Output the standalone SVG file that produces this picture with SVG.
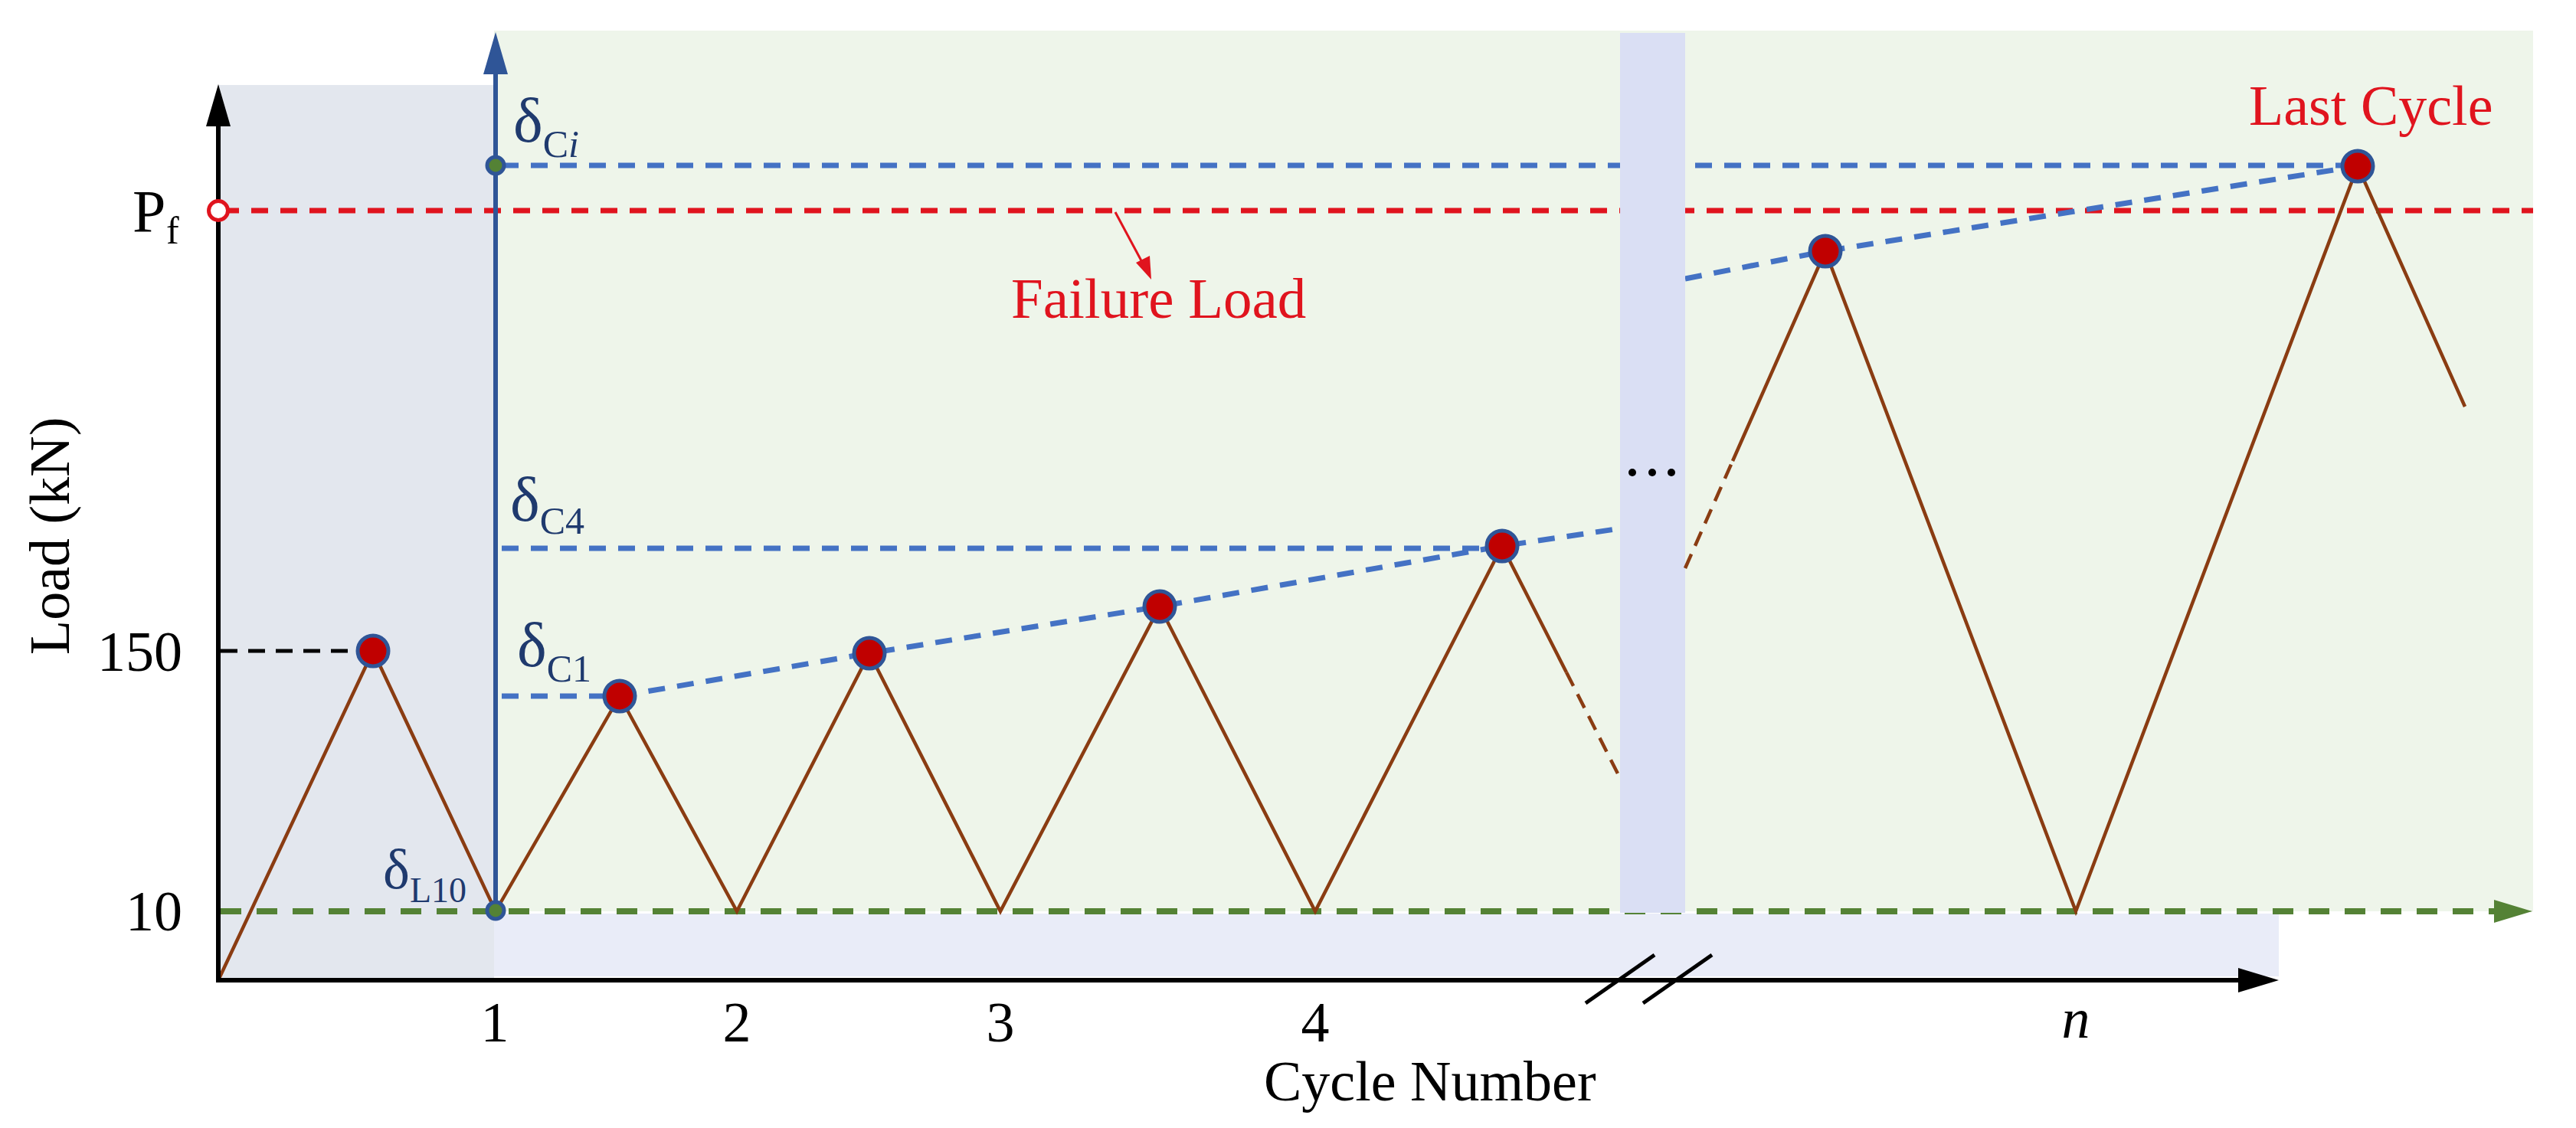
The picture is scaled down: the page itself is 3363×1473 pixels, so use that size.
<svg xmlns="http://www.w3.org/2000/svg" width="3363" height="1473" viewBox="0 0 3363 1473">
<style>
.serif{font-family:"Liberation Serif","Times New Roman",serif;}
.lbl{font-family:"Liberation Serif","Times New Roman",serif;font-size:74px;fill:#000;}
.red{fill:#e0141e;}
.delta{fill:#1f3a6e;font-family:"Liberation Serif","Times New Roman",serif;}
.dash-red{stroke:#e0141e;stroke-width:7;stroke-dasharray:22 16;fill:none;}
.dash-blue{stroke:#4472c4;stroke-width:7;stroke-dasharray:22 16;fill:none;}
.dash-green{stroke:#548235;stroke-width:8;stroke-dasharray:27 20;fill:none;}
.dash-black{stroke:#000;stroke-width:5;stroke-dasharray:22 14;fill:none;}
.load{stroke:#8a3c12;stroke-width:4.5;fill:none;stroke-linejoin:miter;}
.load-dash{stroke:#8a3c12;stroke-width:4.5;fill:none;stroke-dasharray:20 12;}
.peak{fill:#c00000;stroke:#2f5597;stroke-width:5;}
.gdot{fill:#548235;stroke:#2f5597;stroke-width:5;}
</style>

<g id="background">
  <rect x="0" y="0" width="3363" height="1473" fill="#ffffff"/>
  <rect id="region-green" x="645" y="40" width="2662" height="1150" fill="#eef5ea"/>
  <rect id="region-gray" x="285" y="111" width="360" height="1169" fill="#e3e7ee"/>
  <rect id="region-bottom" x="645" y="1193" width="2330" height="82" fill="#e9ecf8"/>
</g>

<g id="connectors">
  <line id="failure-line" class="dash-red" x1="290" y1="275" x2="3307" y2="275"/>
  <line id="base-10-line" class="dash-green" x1="288" y1="1190" x2="3258" y2="1190"/>
  <polygon points="3306,1190 3256,1175 3256,1205" fill="#548235"/>
  <line id="dCi-line" class="dash-blue" x1="655" y1="216" x2="3056" y2="216"/>
  <line id="dC4-line" class="dash-blue" x1="655" y1="716" x2="1940" y2="716"/>
  <line id="dC1-line" class="dash-blue" x1="655" y1="909" x2="790" y2="909"/>
  <line id="p150-line" class="dash-black" x1="288" y1="850" x2="468" y2="850"/>
  <polyline id="trend-1" class="dash-blue" points="809,909 1135,853 1514,792 1961,713 2116,690"/>
  <polyline id="trend-2" class="dash-blue" points="2200,364 2383,328 3078,217"/>
  <line id="failure-arrow" x1="1456" y1="277" x2="1493" y2="346" stroke="#e0141e" stroke-width="3"/>
  <polygon points="1503,365 1483,343 1501,334" fill="#e0141e"/>
</g>

<g id="break-band">
  <rect x="2115" y="43" width="85" height="1149" fill="#dadff4"/>
  <circle cx="2131" cy="617" r="5" fill="#000"/>
  <circle cx="2157" cy="617" r="5" fill="#000"/>
  <circle cx="2182" cy="617" r="5" fill="#000"/>
</g>

<g id="load-path">
  <polyline class="load" points="285,1280 487,850 647,1190 809,909 962,1190 1135,853 1306,1190 1514,792 1717,1190 1961,713 2045,878"/>
  <line class="load-dash" x1="2045" y1="878" x2="2116" y2="1018"/>
  <line class="load-dash" x1="2200" y1="742" x2="2262" y2="602"/>
  <polyline class="load" points="2262,602 2383,328 2710,1190 3078,217 3218,531"/>
</g>

<g id="axes">
  <line x1="285" y1="1283" x2="285" y2="160" stroke="#000" stroke-width="6"/>
  <polygon points="285,110 269,165 301,165" fill="#000"/>
  <line x1="282" y1="1280" x2="2925" y2="1280" stroke="#000" stroke-width="6"/>
  <polygon points="2975,1280 2922,1264 2922,1296" fill="#000"/>
  <line x1="2070" y1="1310" x2="2160" y2="1247" stroke="#000" stroke-width="5"/>
  <line x1="2145" y1="1310" x2="2235" y2="1247" stroke="#000" stroke-width="5"/>
  <line x1="647" y1="1190" x2="647" y2="92" stroke="#2f5597" stroke-width="6"/>
  <polygon points="647,42 631,97 663,97" fill="#2f5597"/>
</g>

<g id="markers">
  <circle id="pf-marker" cx="285" cy="275" r="12.5" fill="#ffffff" stroke="#e0141e" stroke-width="5"/>
  <circle id="dCi-dot" cx="647" cy="216" r="11" class="gdot"/>
  <circle id="dL10-dot" cx="647" cy="1189" r="11" class="gdot"/>
  <circle id="peak-0" cx="487" cy="850" r="20" class="peak"/>
  <circle id="peak-1" cx="809" cy="909" r="20" class="peak"/>
  <circle id="peak-2" cx="1135" cy="853" r="20" class="peak"/>
  <circle id="peak-3" cx="1514" cy="792" r="20" class="peak"/>
  <circle id="peak-4" cx="1961" cy="713" r="20" class="peak"/>
  <circle id="peak-5" cx="2383" cy="328" r="20" class="peak"/>
  <circle id="peak-last" cx="3078" cy="217" r="20" class="peak"/>
</g>

<g id="labels">
  <text class="serif" x="173" y="302" font-size="78">P</text>
  <text class="serif" x="217" y="318" font-size="50">f</text>
  <text class="lbl" x="238" y="876" text-anchor="end">150</text>
  <text class="lbl" x="238" y="1215" text-anchor="end">10</text>
  <text class="lbl" transform="translate(90,855) rotate(-90)">Load (kN)</text>
  <text class="lbl" x="646" y="1360" text-anchor="middle" font-size="72">1</text>
  <text class="lbl" x="962" y="1360" text-anchor="middle" font-size="72">2</text>
  <text class="lbl" x="1306" y="1360" text-anchor="middle" font-size="72">3</text>
  <text class="lbl" x="1717" y="1360" text-anchor="middle" font-size="72">4</text>
  <text class="lbl" x="2710" y="1355" text-anchor="middle" font-size="72" font-style="italic">n</text>
  <text class="lbl" x="1650" y="1437">Cycle Number</text>
  <text class="serif red" x="1320" y="415" font-size="75">Failure Load</text>
  <text class="serif red" x="2936" y="163" font-size="74">Last Cycle</text>
  <text class="delta" x="670" y="185" font-size="82">δ<tspan font-size="50" dy="20">C<tspan font-style="italic">i</tspan></tspan></text>
  <text class="delta" x="666" y="680" font-size="82">δ<tspan font-size="50" dy="17">C4</tspan></text>
  <text class="delta" x="675" y="870" font-size="82">δ<tspan font-size="50" dy="20">C1</tspan></text>
  <text class="delta" x="500" y="1160" font-size="74">δ<tspan font-size="46" dy="18">L10</tspan></text>
</g>
</svg>
